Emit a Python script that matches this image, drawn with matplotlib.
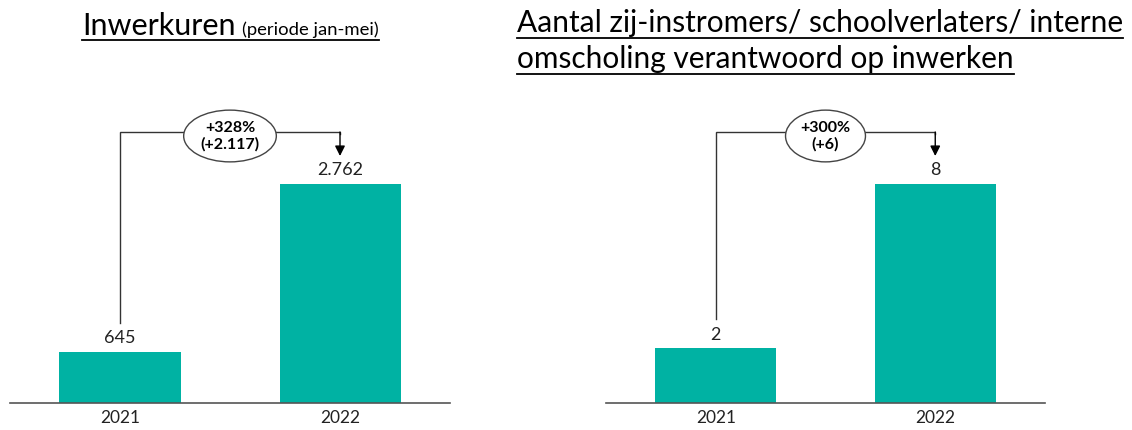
import matplotlib.pyplot as plt
from matplotlib.lines import Line2D

plt.rcParams['font.family'] = ['Lato', 'DejaVu Sans']

years = ['2021', '2022']
uren = [645, 2762]
uren_labels = ['645', '2.762']
uren_change = '+328%\n(+2.117)'
aantal = [2, 8]
aantal_labels = ['2', '8']
aantal_change = '+300%\n(+6)'

teal = '#00B2A3'
line_col = '#333333'

W, H = 1132, 430
fig = plt.figure(figsize=(W / 100, H / 100), dpi=100)


def px_axes(x0, x1, ybot, ytop):
    return fig.add_axes([x0 / W, (H - ybot) / H, (x1 - x0) / W, (ybot - ytop) / H])


def draw_panel(ax, values, labels, change):
    vmax = max(values)
    px = 219 / vmax  # pixels per data unit (tallest bar 219 px)
    bars = ax.bar(range(len(values)), values, width=0.55, color=teal)
    ax.bar_label(bars, labels=labels, padding=4, fontsize=13, color='#222222')
    ax.set_xlim(-0.5, 1.5)
    ax.set_ylim(0, 303 / px)
    ax.set_xticks(range(len(years)))
    ax.set_xticklabels(years, fontsize=12.5)
    ax.tick_params(axis='x', length=0, pad=5, colors='#222222')
    ax.set_yticks([])
    for s in ['left', 'right', 'top']:
        ax.spines[s].set_visible(False)
    ax.spines['bottom'].set_color('#555555')
    ax.spines['bottom'].set_linewidth(1.2)

    # bracket from first bar label to second bar
    y_start = values[0] + 29 / px
    y_top = 271 / px
    y_tip = 247 / px
    ax.plot([0, 0, 1, 1], [y_start, y_top, y_top, y_top - 2 / px],
            color=line_col, lw=1, solid_joinstyle='miter')
    ax.annotate('', xy=(1, y_tip), xytext=(1, y_top),
                arrowprops=dict(arrowstyle='-|>,head_length=0.6,head_width=0.3',
                                color='black', lw=1, shrinkA=0, shrinkB=0))
    ax.text(0.5, y_top - 4 / px, change, ha='center', va='center',
            fontsize=11.5, fontweight='bold', color='black', linespacing=1.15,
            bbox=dict(boxstyle='ellipse,pad=0.2', fc='white', ec='#444444', lw=1))


ax1 = px_axes(10, 450, 403, 100)
draw_panel(ax1, uren, uren_labels, uren_change)
ax2 = px_axes(606, 1045, 403, 100)
draw_panel(ax2, aantal, aantal_labels, aantal_change)

# titles
fig.canvas.draw()
r = fig.canvas.get_renderer()


def fy(y):
    return (H - y) / H


t1 = fig.text(82 / W, fy(35), 'Inwerkuren', fontsize=22, va='baseline', color='black')
fig.canvas.draw()
bb = t1.get_window_extent(r)
t1b = fig.text((bb.x1 + 7) / W, fy(35), '(periode jan-mei)', fontsize=13.3, va='baseline', color='black')
fig.canvas.draw()
bb2 = t1b.get_window_extent(r)
fig.add_artist(Line2D([bb.x0 / W, bb2.x1 / W], [fy(40), fy(40)], color='black', lw=1.3))

lines = ['Aantal zij-instromers/ schoolverlaters/ interne',
         'omscholing verantwoord op inwerken']
for i, txt in enumerate(lines):
    base = 32 + 36 * i
    t = fig.text(517 / W, fy(base), txt, fontsize=21.5, va='baseline', color='black')
    fig.canvas.draw()
    b = t.get_window_extent(r)
    fig.add_artist(Line2D([b.x0 / W, b.x1 / W], [fy(base + 6), fy(base + 6)], color='black', lw=1.3))

fig.savefig('out.png', dpi=100, facecolor='white')
